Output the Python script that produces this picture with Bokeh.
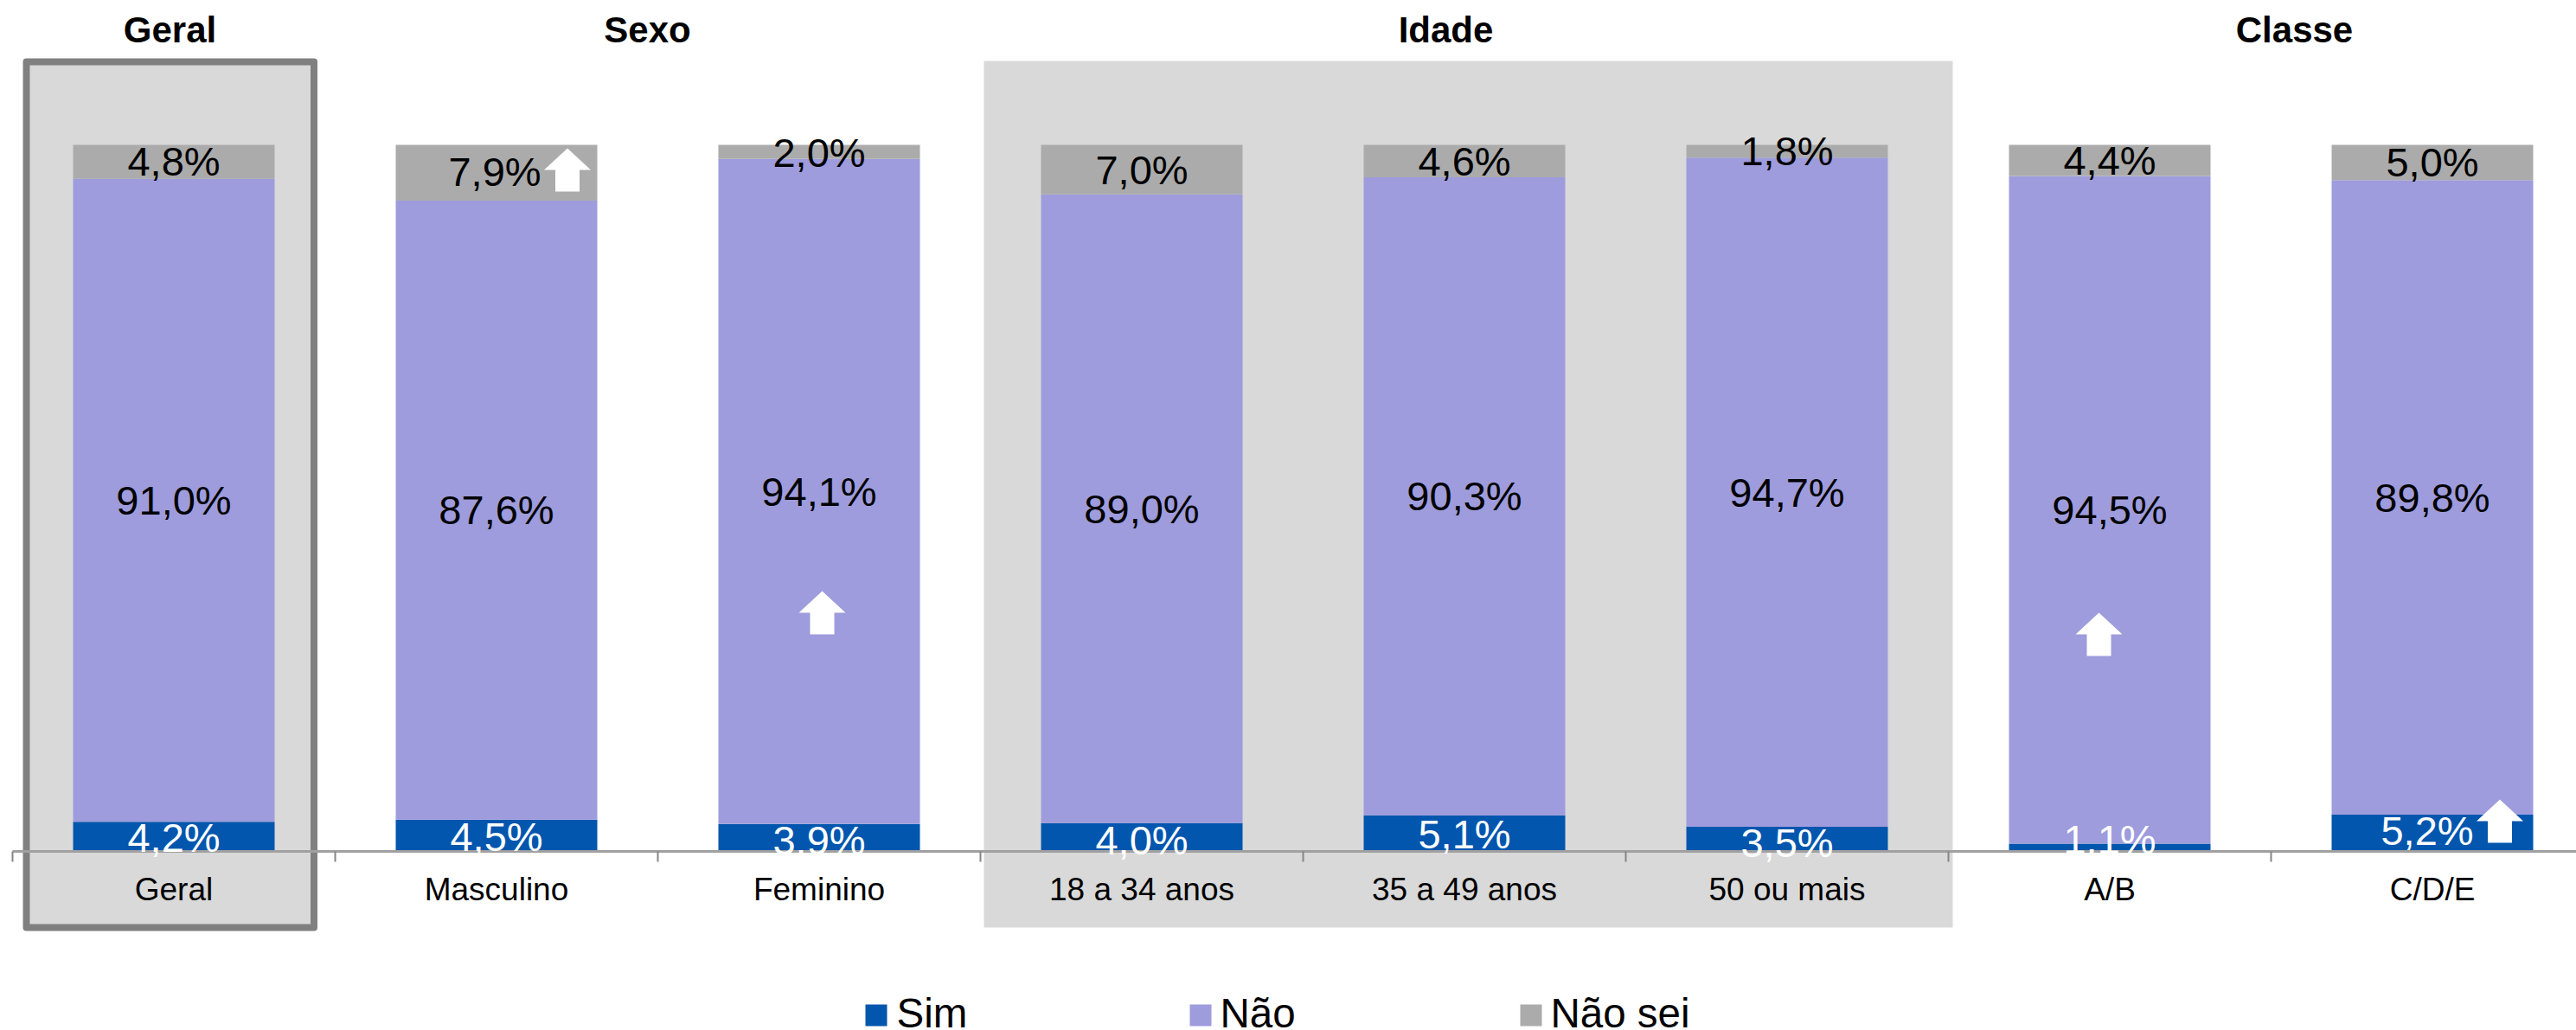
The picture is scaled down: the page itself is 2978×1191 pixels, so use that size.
from bokeh.plotting import figure
from bokeh.models import Range1d, LinearAxis, FixedTicker, ColumnDataSource
from bokeh.core.properties import value
from bokeh.embed import file_html
from bokeh.resources import INLINE

categories = ["Geral", "Masculino", "Feminino", "18 a 34 anos", "35 a 49 anos", "50 ou mais", "A/B", "C/D/E"]
sim = [4.2, 4.5, 3.9, 4.0, 5.1, 3.5, 1.1, 5.2]
nao = [91.0, 87.6, 94.1, 89.0, 90.3, 94.7, 94.5, 89.8]
nao_sei = [4.8, 7.9, 2.0, 7.0, 4.6, 1.8, 4.4, 5.0]
series_names = ["Sim", "Não", "Não sei"]
group_titles = ["Geral", "Sexo", "Idade", "Classe"]

COL_SIM, COL_NAO, COL_NS = "#0256AE", "#9E9CDC", "#ABABAB"
FONT = value("Liberation Sans")
W, H = 2978, 1191
CAT = 373.0
X0 = 14.0
Y100, Y0 = 167.0, 984.0
PPU = (Y0 - Y100) / 100.0

def dx(rx):
    return (rx - X0) / CAT

def dy(ry):
    return (Y0 - ry) / PPU

p = figure(width=W, height=H, output_backend="svg", toolbar_location=None,
           x_range=Range1d(dx(0), dx(W)), y_range=Range1d(dy(H), dy(0)),
           x_axis_type=None, y_axis_type=None, min_border=0, outline_line_color=None)
p.grid.visible = False

# group bands
p.quad(left=[dx(1137)], right=[dx(2257)], top=[dy(70)], bottom=[dy(1072)],
       fill_color="#D9D9D9", line_color=None)
p.quad(left=[dx(30)], right=[dx(362.5)], top=[dy(71)], bottom=[dy(1072)],
       fill_color="#D9D9D9", line_color="#808080", line_width=8, line_join="round")

# stacked bars
centers = [i + 0.5 for i in range(len(categories))]
s1 = [a + b for a, b in zip(sim, nao)]
s2 = [a + b for a, b in zip(s1, nao_sei)]
BW = 233 / CAT
p.vbar(x=centers, width=BW, bottom=[0] * 8, top=sim, fill_color=COL_SIM, line_color=None)
p.vbar(x=centers, width=BW, bottom=sim, top=s1, fill_color=COL_NAO, line_color=None)
p.vbar(x=centers, width=BW, bottom=s1, top=s2, fill_color=COL_NS, line_color=None)

# axis
ax = LinearAxis(ticker=FixedTicker(ticks=centers, minor_ticks=list(range(9))),
                major_label_overrides={c: n for c, n in zip(centers, categories)},
                fixed_location=0, bounds=(0, 8),
                major_tick_in=0, major_tick_out=0, minor_tick_in=0, minor_tick_out=12,
                minor_tick_line_color="#868686", minor_tick_line_width=2,
                axis_line_color="#A0A0A0", axis_line_width=3,
                major_label_standoff=11, major_label_text_font="Liberation Sans",
                major_label_text_font_size="37px", major_label_text_color="#000000")
p.add_layout(ax, "below")

# data labels
fmt = lambda v: f"{v:.1f}".replace(".", ",") + "%"
lx, ly, lt, lc, lxo, lyo = [], [], [], [], [], []
x_shift = {(1, 2): -2, (7, 0): -6}
y_shift = {(6, 0): -10, (7, 0): -3, (5, 0): 4, (3, 0): 3, (2, 0): 3, (0, 0): 1, (1, 0): 1, (4, 0): 1,
           (0, 2): -1, (1, 2): -1, (2, 2): 1}
for i, c in enumerate(centers):
    for j, (lo, hi, val) in enumerate(((0, sim[i], sim[i]), (sim[i], s1[i], nao[i]), (s1[i], s2[i], nao_sei[i]))):
        lx.append(c); ly.append((lo + hi) / 2); lt.append(fmt(val))
        lc.append("#FFFFFF" if j == 0 else "#000000")
        lxo.append(x_shift.get((i, j), 0)); lyo.append(y_shift.get((i, j), 0))
p.text(x="x", y="y", text="t", text_color="c", x_offset="xo", y_offset="yo",
       source=ColumnDataSource(dict(x=lx, y=ly, t=lt, c=lc, xo=lxo, yo=lyo)),
       text_font=FONT, text_font_size="47px", text_align="center", text_baseline="middle",
       level="annotation")

# group titles
tx = [196, 748, 1671, 2652]
p.text(x=[dx(v) for v in tx], y=[dy(33.5)] * 4, text=group_titles, text_font=FONT,
       text_font_style="bold", text_font_size="42px", text_align="center",
       text_baseline="middle", text_color="#000000")

# arrows (top-centre in reference pixels)
arrow_pos = [(655.5, 171), (950, 683), (2426, 708), (2889.5, 924)]
for cx, top in arrow_pos:
    px_ = [cx, cx + 27, cx + 14, cx + 14, cx - 14, cx - 14, cx - 27]
    py_ = [top, top + 25, top + 25, top + 50, top + 50, top + 25, top + 25]
    p.patch([dx(a) for a in px_], [dy(b) for b in py_], fill_color="#FFFFFF", line_color=None, level="annotation")

# legend
leg_sq = [1000, 1375, 1757]
leg_tx = [1036, 1410, 1792]
for sq, t, name, col in zip(leg_sq, leg_tx, series_names, (COL_SIM, COL_NAO, COL_NS)):
    p.quad(left=[dx(sq)], right=[dx(sq + 25)], top=[dy(1161)], bottom=[dy(1186)],
           fill_color=col, line_color=None)
    p.text(x=[dx(t)], y=[dy(1171)], text=[name], text_font=FONT, text_font_size="47.5px",
           text_baseline="middle", text_align="left", text_color="#000000")

open("out.html", "w").write(file_html(p, INLINE))
